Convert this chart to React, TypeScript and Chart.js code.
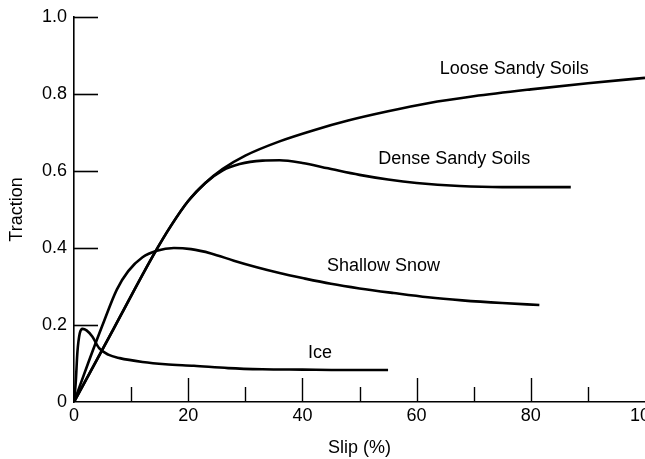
import React, { useEffect, useRef } from "react";
import { Chart, registerables } from "chart.js";

Chart.register(...registerables);

// ---- Data ----
const looseX = [0, 7, 14, 17, 20, 23, 26, 30, 36, 42, 48, 55, 62, 70, 80, 90, 100];
const looseY = [0, 0.192, 0.384, 0.458, 0.522, 0.569, 0.605, 0.64, 0.677, 0.706, 0.731, 0.755, 0.776, 0.794, 0.812, 0.828, 0.842];

const denseX = [0, 7, 14, 17, 20, 23, 26, 29, 33, 36, 40, 44.5, 50, 55, 60, 67.5, 75, 87];
const denseY = [0, 0.192, 0.384, 0.458, 0.522, 0.569, 0.601, 0.618, 0.627, 0.628, 0.621, 0.607, 0.59, 0.578, 0.569, 0.561, 0.558, 0.558];

const snowX = [0, 2.5, 5, 7.5, 9.5, 12, 14.5, 17.5, 20.5, 24, 28, 32, 36, 40, 45, 50, 56, 62, 68, 75, 81.5];
const snowY = [0, 0.102, 0.2, 0.292, 0.34, 0.376, 0.393, 0.4, 0.397, 0.386, 0.367, 0.35, 0.335, 0.322, 0.307, 0.295, 0.283, 0.272, 0.264, 0.257, 0.252];

const iceX = [0, 0.3, 0.6, 1.0, 1.5, 2.2, 3.2, 4.4, 6, 8, 12, 16, 21, 27, 33, 40, 47, 55];
const iceY = [0, 0.05, 0.13, 0.178, 0.19, 0.186, 0.17, 0.14, 0.123, 0.114, 0.104, 0.098, 0.094, 0.088, 0.085, 0.084, 0.083, 0.083];

const curveLabels = ["Loose Sandy Soils", "Dense Sandy Soils", "Shallow Snow", "Ice"];
const curveLabelX = [77.1, 66.6, 54.2, 43.1];
const curveLabelY = [0.866, 0.632, 0.353, 0.127];

const yTickMarks = [0.2, 0.4, 0.6, 0.8, 1.0];
const xMajorTickMarks = [20, 40, 60, 80];
const xMinorTickMarks = [10, 30, 50, 70, 90];

const xTitle = "Slip (%)";
const yTitle = "Traction";

const FONT = "'Liberation Sans', Arial, Helvetica, sans-serif";

function pts(xs: number[], ys: number[]) {
  return xs.map((x, i) => ({ x, y: ys[i] }));
}

const tickMarksPlugin = {
  id: "tickMarks",
  afterDatasetsDraw(chart: any) {
    const ctx = chart.ctx;
    const xs = chart.scales.x;
    const ys = chart.scales.y;
    const { left, bottom } = chart.chartArea;
    ctx.save();
    ctx.strokeStyle = "#000";
    ctx.lineWidth = 1.6;
    yTickMarks.forEach((v) => {
      const py = Math.round(ys.getPixelForValue(v)) + 0.5;
      ctx.beginPath();
      ctx.moveTo(left, py);
      ctx.lineTo(left + 24, py);
      ctx.stroke();
    });
    ctx.lineWidth = 1.4;
    xMajorTickMarks.forEach((v) => {
      const px = Math.round(xs.getPixelForValue(v)) + 0.5;
      ctx.beginPath();
      ctx.moveTo(px, bottom);
      ctx.lineTo(px, bottom - 24);
      ctx.stroke();
    });
    xMinorTickMarks.forEach((v) => {
      const px = Math.round(xs.getPixelForValue(v)) + 0.5;
      ctx.beginPath();
      ctx.moveTo(px, bottom);
      ctx.lineTo(px, bottom - 15);
      ctx.stroke();
    });
    // curve labels
    ctx.fillStyle = "#000";
    ctx.font = `18px ${FONT}`;
    ctx.textAlign = "center";
    ctx.textBaseline = "middle";
    curveLabels.forEach((t, i) => {
      ctx.fillText(t, xs.getPixelForValue(curveLabelX[i]), ys.getPixelForValue(curveLabelY[i]));
    });
    ctx.restore();
  },
};

export default function App() {
  const ref = useRef<HTMLCanvasElement | null>(null);

  useEffect(() => {
    document.body.style.margin = "0";
    const canvas = ref.current;
    if (!canvas) return;
    const ds = (data: { x: number; y: number }[]) => ({
      data,
      borderColor: "#000",
      borderWidth: 2.6,
      pointRadius: 0,
      fill: false,
      cubicInterpolationMode: "monotone" as const,
    });
    const chart = new Chart(canvas, {
      type: "line",
      data: {
        datasets: [
          { label: curveLabels[0], ...ds(pts(looseX, looseY)) },
          { label: curveLabels[1], ...ds(pts(denseX, denseY)) },
          { label: curveLabels[2], ...ds(pts(snowX, snowY)) },
          { label: curveLabels[3], ...ds(pts(iceX, iceY)) },
        ],
      },
      options: {
        animation: false,
        responsive: false,
        parsing: true,
        layout: { autoPadding: false, padding: { top: 17, right: 0, left: 0, bottom: 0 } },
        plugins: { legend: { display: false }, tooltip: { enabled: false } },
        scales: {
          x: {
            type: "linear",
            min: 0,
            max: 100,
            afterFit: (s: any) => {
              s.height = 57;
              s.paddingLeft = 0;
              s.paddingRight = 0;
            },
            grid: { display: true, drawOnChartArea: false, drawTicks: false },
            border: { display: true, color: "#000", width: 1.6 },
            ticks: {
              stepSize: 20,
              padding: 3,
              color: "#000",
              font: { family: FONT, size: 18 },
              maxRotation: 0,
            },
            title: {
              display: true,
              text: xTitle,
              color: "#000",
              font: { family: FONT, size: 18 },
              padding: { top: 0, bottom: 0 },
            },
          },
          y: {
            type: "linear",
            min: 0,
            max: 1,
            afterFit: (s: any) => {
              s.width = 74;
              s.paddingTop = 0;
              s.paddingBottom = 0;
            },
            grid: { display: true, drawOnChartArea: false, drawTicks: false },
            border: { display: true, color: "#000", width: 1.6 },
            ticks: {
              stepSize: 0.2,
              padding: 7,
              color: "#000",
              font: { family: FONT, size: 18 },
              callback: (v: any) => (Number(v) === 0 ? "0" : Number(v).toFixed(1)),
            },
            title: {
              display: true,
              text: yTitle,
              color: "#000",
              font: { family: FONT, size: 18 },
              padding: { top: 6, bottom: 0 },
            },
          },
        },
      },
      plugins: [tickMarksPlugin],
    });
    return () => chart.destroy();
  }, []);

  return (
    <div style={{ width: 645, height: 459, background: "#fff" }}>
      <canvas ref={ref} width={645} height={459} />
    </div>
  );
}
